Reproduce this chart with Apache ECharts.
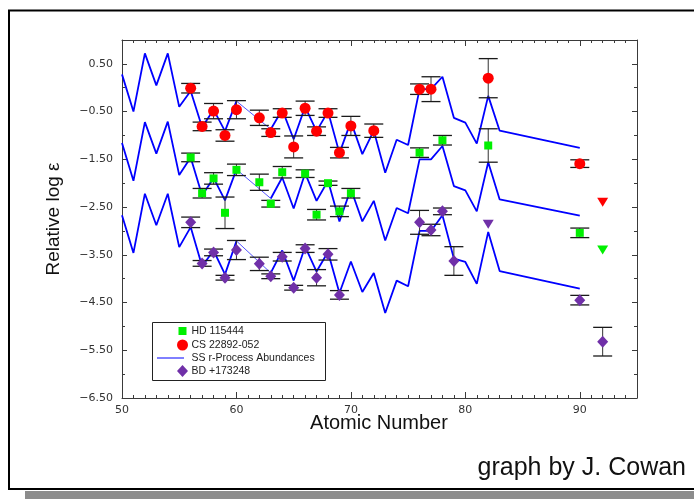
<!DOCTYPE html>
<html>
<head>
<meta charset="utf-8">
<script src="https://cdn.jsdelivr.net/npm/echarts@6/dist/echarts.min.js"></script>
<style>
  html, body { margin: 0; padding: 0; background: #fff; }
  #chart { width: 694px; height: 499px; }
</style>
</head>
<body>
<div id="chart"></div>
<script>
// Scaled solar-system r-process abundance curves (one per star)
const ssZ  = [50, 51, 52, 53, 54, 55, 56, 57, 58, 59, 60, 63, 64, 65, 66, 67, 68, 69, 70, 71, 72, 73, 74, 75, 76, 77, 78, 79, 80, 81, 82, 83, 90];
const ssCS = [0.28, -0.50, 0.72, 0.05, 0.72, -0.40, -0.07, -0.83, -0.46, -0.91, -0.28, -0.87, -0.46, -1.08, -0.40, -0.91, -0.50, -1.37, -0.71, -1.39, -0.90, -1.78, -1.09, -1.20, -0.03, -0.03, 0.23, -0.63, -0.73, -1.17, -0.17, -0.90, -1.26];
const ssHD = [-1.16, -1.95, -0.72, -1.38, -0.71, -1.83, -1.46, -2.26, -1.89, -2.36, -1.71, -2.32, -1.88, -2.53, -1.79, -2.37, -1.95, -2.80, -2.12, -2.80, -2.37, -3.20, -2.52, -2.63, -1.50, -1.50, -1.22, -2.06, -2.15, -2.59, -1.56, -2.34, -2.68];
const ssBD = [-2.67, -3.46, -2.22, -2.88, -2.22, -3.34, -2.92, -3.74, -3.41, -3.91, -3.21, -3.88, -3.41, -4.04, -3.33, -3.85, -3.44, -4.30, -3.64, -4.28, -3.88, -4.72, -4.04, -4.16, -3.00, -3.00, -2.67, -3.58, -3.65, -4.11, -3.02, -3.84, -4.21];
// the curve is bridged by a thin segment from Z=60 to Z=63
const ssBridge = [60, 63];

// CS 22892-052
const csZ   = [56, 57, 58, 59, 60, 62, 63, 64, 65, 66, 67, 68, 69, 70, 72, 76, 77, 82, 90];
const csVal = [-0.01, -0.81, -0.49, -1.00, -0.46, -0.63, -0.94, -0.53, -1.24, -0.43, -0.91, -0.53, -1.36, -0.80, -0.90, -0.03, -0.03, 0.20, -1.59];
const csErr = [0.10, 0.09, 0.16, 0.12, 0.19, 0.16, 0.08, 0.09, 0.23, 0.15, 0.09, 0.09, 0.11, 0.20, 0.14, 0.11, 0.26, 0.41, 0.08];
const csLimZ = [92];
const csLimVal = [-2.40];

// HD 115444
const hdZ   = [56, 57, 58, 59, 60, 62, 63, 64, 66, 67, 68, 69, 70, 76, 78, 82, 90];
const hdVal = [-1.46, -2.21, -1.90, -2.62, -1.72, -1.98, -2.43, -1.77, -1.80, -2.66, -2.00, -2.59, -2.21, -1.36, -1.10, -1.21, -3.04];
const hdErr = [0.09, 0.10, 0.12, 0.33, 0.12, 0.17, 0.07, 0.12, 0.08, 0.11, 0.045, 0.11, 0.10, 0.10, 0.10, 0.35, 0.10];
const hdLimZ = [92];
const hdLimVal = [-3.40];

// BD +17 3248
const bdZ   = [56, 57, 58, 59, 60, 62, 63, 64, 65, 66, 67, 68, 69, 76, 77, 78, 79, 90, 92];
const bdVal = [-2.82, -3.68, -3.45, -3.98, -3.40, -3.69, -3.95, -3.54, -4.19, -3.37, -3.98, -3.49, -4.34, -2.82, -2.98, -2.59, -3.63, -4.45, -5.32];
const bdErr = [0.11, 0.06, 0.07, 0.05, 0.20, 0.14, 0.05, 0.09, 0.05, 0.08, 0.17, 0.12, 0.09, 0.25, 0.12, 0.07, 0.30, 0.10, 0.30];
const bdLimZ = [82];
const bdLimVal = [-2.86];

const legendNames = ['HD 115444', 'CS 22892-052', 'SS r-Process Abundances', 'BD +173248'];

const RED = '#ff0000', GREEN = '#00f000', PURPLE = '#7030a8', BLUE = '#0000ff';
const AXIS = '#3a3a3a';
const TICK_FONT = "'DejaVu Sans', sans-serif";
const TEXT_FONT = "'Liberation Sans', Arial, sans-serif";

function curveData(vals) {
  const out = [];
  ssZ.forEach((z, i) => {
    out.push([z, vals[i]]);
    if (z === ssBridge[0]) out.push([z + 1, '-']);
  });
  return out;
}
function bridgeData(vals) {
  return ssBridge.map(z => [z, vals[ssZ.indexOf(z)]]);
}
function pairs(zs, vs) { return zs.map((z, i) => [z, vs[i]]); }
function bars(zs, vs, es) { return zs.map((z, i) => [z, vs[i] - es[i], vs[i] + es[i]]); }

function errorBar(params, api) {
  const x = api.value(0);
  const lo = api.coord([x, api.value(1)]);
  const hi = api.coord([x, api.value(2)]);
  const hw = 9.5;
  const st = { stroke: '#1a1a1a', lineWidth: 1.3 };
  return {
    type: 'group',
    children: [
      { type: 'line', shape: { x1: lo[0], y1: lo[1], x2: hi[0], y2: hi[1] }, style: { stroke: '#333', lineWidth: 1 } },
      { type: 'line', shape: { x1: lo[0] - hw, y1: lo[1], x2: lo[0] + hw, y2: lo[1] }, style: st },
      { type: 'line', shape: { x1: hi[0] - hw, y1: hi[1], x2: hi[0] + hw, y2: hi[1] }, style: st }
    ]
  };
}

function curveSeries(name, vals) {
  return [
    { name, type: 'line', data: curveData(vals), showSymbol: false, symbol: 'none', connectNulls: false,
      lineStyle: { color: BLUE, width: 1.8 }, z: 2, silent: true, animation: false },
    { name, type: 'line', data: bridgeData(vals), showSymbol: false, symbol: 'none',
      lineStyle: { color: '#4040ff', width: 0.9 }, z: 2, silent: true, animation: false }
  ];
}
function barSeries(name, zs, vs, es) {
  return { name, type: 'custom', renderItem: errorBar, data: bars(zs, vs, es),
    encode: { x: 0, y: [1, 2] }, z: 3, silent: true, animation: false };
}
function pointSeries(name, zs, vs, symbol, size, color) {
  return { name, type: 'scatter', data: pairs(zs, vs), symbol, symbolSize: size,
    itemStyle: { color, opacity: 1 }, emphasis: { disabled: true }, z: 4, silent: true, animation: false };
}
function limitSeries(name, zs, vs, color) {
  return { name, type: 'scatter', data: pairs(zs, vs), symbol: 'triangle', symbolRotate: 180,
    symbolSize: [11, 9], itemStyle: { color, opacity: 1 }, emphasis: { disabled: true },
    z: 5, silent: true, animation: false };
}

function xAx(position, interval, len, showLine, showLabels) {
  return {
    type: 'value', min: 50, max: 95, interval, position,
    axisLine: { show: showLine, onZero: false, lineStyle: { color: AXIS, width: 1 } },
    axisTick: { show: true, inside: true, length: len, lineStyle: { color: AXIS, width: 1 } },
    axisLabel: { show: showLabels, showMaxLabel: false, fontFamily: TICK_FONT, fontSize: 11, color: '#333', margin: 7 },
    splitLine: { show: false }
  };
}
function yAx(position, min, max, interval, len, showLine, showLabels) {
  return {
    type: 'value', min, max, interval, position,
    axisLine: { show: showLine, onZero: false, lineStyle: { color: AXIS, width: 1 } },
    axisTick: { show: true, inside: true, length: len, lineStyle: { color: AXIS, width: 1 } },
    axisLabel: {
      show: showLabels, fontFamily: TICK_FONT, fontSize: 11, color: '#333', margin: 9,
      formatter: v => {
        if (Math.abs(Math.round(v * 2)) % 2 !== 1) return '';
        return (v < 0 ? '\u2212' : '') + Math.abs(v).toFixed(2);
      }
    },
    splitLine: { show: false }
  };
}

const chart = echarts.init(document.getElementById('chart'), null, { renderer: 'canvas' });

const legendX = 152, legendY = 322;
const rowY = [331, 345, 358, 371];

chart.setOption({
  animation: false,
  backgroundColor: '#fff',
  grid: { left: 122, right: 57, top: 40, bottom: 101, show: false },
  xAxis: [
    xAx('bottom', 10, 6, true, true),
    xAx('bottom', 1, 3, false, false),
    xAx('top', 10, 6, true, false),
    xAx('top', 1, 3, false, false)
  ],
  yAxis: [
    yAx('left', -6.5, 1.0, 0.5, 3, true, true),
    // major ticks sit at the half-unit labels (axis shifted by half a unit)
    yAx('left', -6.0, 1.5, 1, 5, false, false),
    yAx('right', -6.5, 1.0, 0.5, 3, true, false),
    yAx('right', -6.0, 1.5, 1, 5, false, false)
  ],
  series: [
    ...curveSeries('CS SS', ssCS),
    ...curveSeries('HD SS', ssHD),
    ...curveSeries('BD SS', ssBD),
    barSeries('CS err', csZ, csVal, csErr),
    barSeries('HD err', hdZ, hdVal, hdErr),
    barSeries('BD err', bdZ, bdVal, bdErr),
    pointSeries(legendNames[1], csZ, csVal, 'circle', 11, RED),
    pointSeries(legendNames[0], hdZ, hdVal, 'rect', 8, GREEN),
    pointSeries(legendNames[3], bdZ, bdVal, 'diamond', [11, 12], PURPLE),
    limitSeries('CS limit', csLimZ, csLimVal, RED),
    limitSeries('HD limit', hdLimZ, hdLimVal, GREEN),
    limitSeries('BD limit', bdLimZ, bdLimVal, PURPLE)
  ],
  graphic: [
    // outer frame and drop shadow
    { type: 'rect', shape: { x: 25, y: 491, width: 680, height: 10 }, style: { fill: '#8c8c8c' }, z: 0 },
    { type: 'rect', shape: { x: 9, y: 10.5, width: 700, height: 478.5 }, style: { fill: 'none', stroke: '#000', lineWidth: 2 }, z: 1 },
    // axis titles
    { type: 'text', x: 379, y: 423, style: { text: 'Atomic Number', font: '20px ' + TEXT_FONT, fill: '#111', align: 'center', verticalAlign: 'middle' } },
    { type: 'text', x: 54, y: 219, rotation: Math.PI / 2, style: { text: 'Relative log \u03b5', font: '19px ' + TEXT_FONT, fill: '#111', align: 'center', verticalAlign: 'middle' } },
    { type: 'text', x: 686, y: 468, style: { text: 'graph by J. Cowan', font: '25px ' + TEXT_FONT, fill: '#111', align: 'right', verticalAlign: 'middle' } },
    // legend box
    { type: 'rect', shape: { x: legendX + 0.5, y: legendY + 0.5, width: 173, height: 58 }, style: { fill: '#fff', stroke: '#222', lineWidth: 1 }, z: 10 },
    { type: 'rect', shape: { x: 178.5, y: rowY[0] - 4, width: 8, height: 8 }, style: { fill: GREEN }, z: 11 },
    { type: 'circle', shape: { cx: 182.5, cy: rowY[1], r: 5.5 }, style: { fill: RED }, z: 11 },
    { type: 'line', shape: { x1: 157, y1: rowY[2], x2: 184, y2: rowY[2] }, style: { stroke: BLUE, lineWidth: 1 }, z: 11 },
    { type: 'polygon', shape: { points: [[182.5, rowY[3] - 6], [188, rowY[3]], [182.5, rowY[3] + 6], [177, rowY[3]]] }, style: { fill: PURPLE }, z: 11 },
    ...legendNames.map((t, i) => ({
      type: 'text', x: 191.5, y: rowY[i], z: 11,
      style: { text: t, font: '10.5px ' + TEXT_FONT, fill: '#222', align: 'left', verticalAlign: 'middle' }
    }))
  ]
});
</script>
</body>
</html>
